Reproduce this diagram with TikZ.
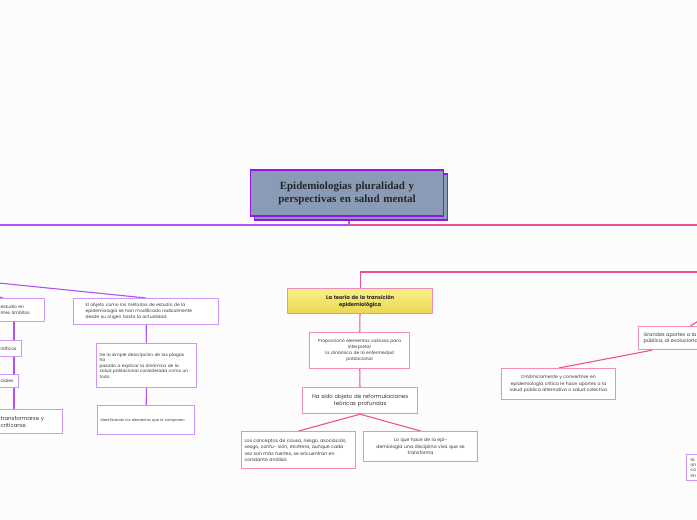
\documentclass[tikz,border=0pt]{standalone}
\usepackage{fontspec}
\setmainfont{Poppins}
\newfontfamily\titlefont{Liberation Serif}
\usepackage{tikz}
\usetikzlibrary{shadows, calc, backgrounds}
\definecolor{lilac}{RGB}{206,150,248}
\definecolor{lilacdark}{RGB}{176,80,245}
\definecolor{rosa}{RGB}{246,140,188}
\definecolor{rosadark}{RGB}{238,80,150}
\definecolor{slate}{RGB}{138,155,181}
\definecolor{violet}{RGB}{150,20,235}
\definecolor{ink}{RGB}{55,55,55}
\definecolor{paper}{RGB}{252,252,252}
\definecolor{sun1}{RGB}{250,240,135}
\definecolor{sun2}{RGB}{233,214,82}
\tikzstyle{titlebox} = [rectangle, draw=violet, line width=1.6pt, fill=slate, text width=186pt, minimum height=46pt, align=center, text=black!85, font=\titlefont\bfseries\fontsize{11}{13}\selectfont, copy shadow={shadow xshift=4pt, shadow yshift=-4pt}]
\tikzstyle{lilacbox} = [rectangle, draw=lilac, line width=1.2pt, fill=white, anchor=north west, align=left, inner xsep=4pt, inner ysep=2pt, text=ink, font=\fontsize{4.4}{6}\selectfont]
\tikzstyle{pinkbox} = [rectangle, draw=rosa, line width=1.2pt, fill=white, anchor=north west, align=center, inner xsep=4pt, inner ysep=2pt, text=ink, font=\fontsize{4.4}{6}\selectfont]
\tikzstyle{yellowbox} = [rectangle, draw=rosa, line width=1.2pt, top color=sun1, bottom color=sun2, anchor=north west, align=center, inner xsep=4pt, text=black!85, font=\bfseries\fontsize{5.2}{7}\selectfont]
\tikzstyle{lilacline} = [draw=lilacdark, line width=1.1pt]
\tikzstyle{pinkline} = [draw=rosadark, line width=1.1pt]

\begin{document}
\begin{tikzpicture}[x=1pt, y=-1pt]
    \useasboundingbox (0,0) rectangle (697,520);
    \begin{scope}[on background layer]
        \fill[paper] (0,0) rectangle (697,520);
    \end{scope}

    \node[titlebox] (title) at (347,193) {Epidemiologias pluralidad y\\perspectivas en salud mental};

    % left branch
    \coordinate (hub) at (349,225);
    \coordinate (leftend) at (-5,225);
    \coordinate (leftparent) at (-80,275);
    \coordinate (lcol) at (14,0);
    \node[lilacbox, text width=39pt, minimum height=23pt, inner xsep=5pt] (scope) at (-5,298) {estudio en\\ntes ámbitos};
    \node[lilacbox, text width=16pt, minimum height=16pt, inner xsep=5pt] (sci) at (-5,340) {ntíficos};
    \node[lilacbox, text width=13pt, minimum height=13pt, inner xsep=5pt] (soc) at (-5,374) {ciales};
    \node[lilacbox, text width=57pt, minimum height=24pt, inner xsep=5pt, font=\fontsize{5.4}{7}\selectfont] (crit) at (-5,409) {transformarse y\\criticarse.};
    \node[lilacbox, text width=121pt, minimum height=26pt, inner xsep=12pt] (object) at (73,298) {El objeto como los métodos de estudio de la\\epidemiología se han modificado radicalmente\\desde su origen hasta la actualidad};
    \node[lilacbox, text width=94pt, minimum height=44pt, inner xsep=3pt, font=\fontsize{4.3}{5.6}\selectfont] (plagues) at (96,343) {De la simple descripción de las plagas\\ha\\ pasado a explicar la dinámica de la\\salud poblacional considerada como un\\todo};
    \node[lilacbox, text width=91pt, minimum height=29pt, inner xsep=3pt, font=\fontsize{3.6}{5}\selectfont] (elements) at (97,405) {Identificando los elementos que la componen};

    % center branch
    \coordinate (rightend) at (702,225);
    \coordinate (rightparent) at (705,272);
    \node[yellowbox, text width=137pt, minimum height=25pt] (theory) at (287,288) {La teoría de la transición\\epidemiológica};
    \node[pinkbox, text width=94pt, minimum height=36pt, inner xsep=3pt] (tools) at (309,332) {Proporcionó elementos valiosos para\\interpretar\\la dinámica de la enfermedad\\poblacional};
    \node[pinkbox, text width=107pt, minimum height=26pt, font=\fontsize{5.5}{7.3}\selectfont] (reform) at (302,387) {Ha sido objeto de reformulaciones\\teóricas profundas};
    \node[pinkbox, text width=108pt, minimum height=37pt, inner xsep=3pt, align=left, font=\fontsize{4.6}{6.4}\selectfont] (concepts) at (241,431) {Los conceptos de causa, riesgo, asociación,\\sesgo, confu- sión, etcétera, aunque cada\\vez son más fuertes, se encuentran en\\constante análisis};
    \node[pinkbox, text width=108pt, minimum height=30pt, inner xsep=3pt, font=\fontsize{4.6}{6.5}\selectfont] (alive) at (363,431) {Lo que hace de la epi-\\demiología una disciplina viva que se\\transforma};

    % right branch
    \coordinate (mparent) at (730,300);
    \node[pinkbox, text width=94pt, minimum height=23pt, inner xsep=5pt, align=left, font=\fontsize{4.9}{6}\selectfont] (public) at (638,326) {Grandes aportes a la\\pública, al evolucionar};
    \node[pinkbox, text width=108pt, minimum height=31pt, inner xsep=3pt, font=\fontsize{4.5}{6.3}\selectfont] (critical) at (501,368) {Dinámicamente y convertirse en\\epidemiología crítica le hace aportes a la\\salud pública alternativa o salud colectiva};
    \node[lilacbox, text width=40pt, minimum height=26pt, inner xsep=4pt, font=\fontsize{4.4}{5.2}\selectfont] (edge) at (686,454) {la\\on\\co\\im};

    \begin{scope}[on background layer]
        \draw[pinkline] (title.south -| hub) -- (hub);
        \draw[lilacline, line width=1.4pt] (hub) -- (leftend);
        \draw[pinkline, line width=1.4pt] (hub) -- (rightend);
        \draw[lilacline] (leftparent) -- (object.north);
        \draw[lilacline] (leftparent) -- ($(scope.north west)+(8,0)$);
        \draw[lilacline] (scope.south -| lcol) -- (sci.north -| lcol);
        \draw[lilacline] (sci.south -| lcol) -- (soc.north -| lcol);
        \draw[lilacline] (soc.south -| lcol) -- (crit.north -| lcol);
        \draw[lilacline] (object) -- (plagues);
        \draw[lilacline] (plagues) -- (elements);
        \draw[pinkline] (rightparent) -| (theory.north);
        \draw[pinkline] (theory) -- (tools);
        \draw[pinkline] (tools) -- (reform);
        \draw[pinkline] (reform.south) -- (concepts.north);
        \draw[pinkline] (reform.south) -- (alive.north);
        \draw[pinkline] (mparent) -- (public.north);
        \draw[pinkline] ($(public.south west)+(14,0)$) -- (critical.north);
    \end{scope}
\end{tikzpicture}
\end{document}
